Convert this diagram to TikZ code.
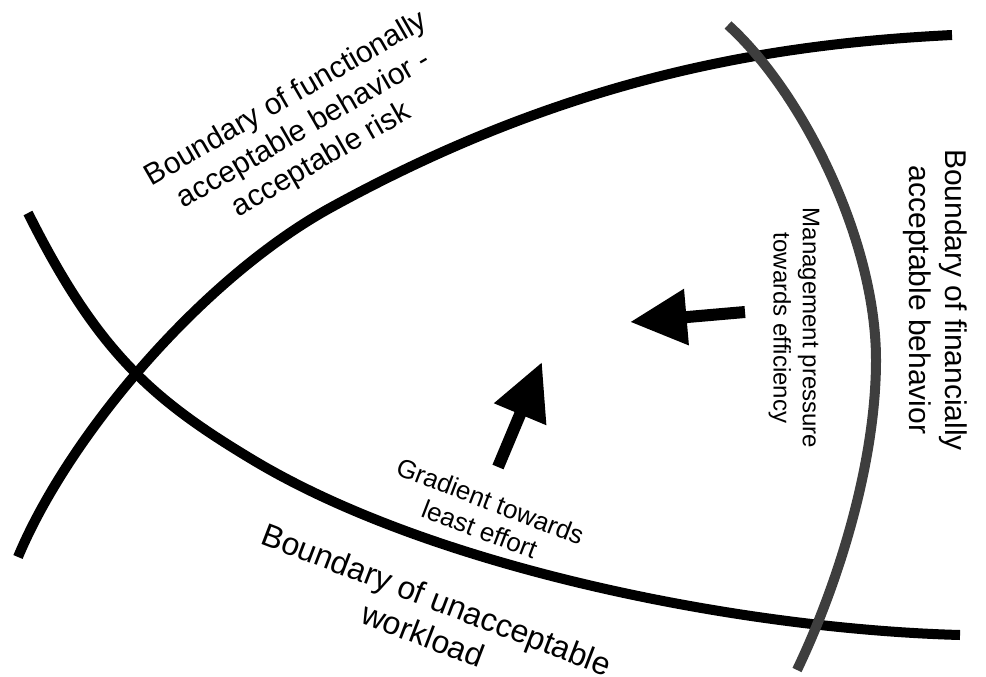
\documentclass[tikz,border=0pt]{standalone}
\usepackage{fontspec}
\setmainfont{Liberation Sans}
\usetikzlibrary{arrows.meta,positioning}
\definecolor{corpreto}{RGB}{0,0,0}
\definecolor{corcinzaescuro}{RGB}{62,62,62}

\begin{document}
\begin{tikzpicture}[
  x=0.03cm, y=-0.03cm,
  fronteira/.style={line width=0.3cm, line cap=butt},
  rotulo/.style={align=center, inner sep=0pt, text=corpreto},
  seta/.style={line width=0.36cm, draw=corpreto,
               -{Triangle[length=1.7cm,width=1.6cm]}}
]
  \useasboundingbox (0,0) rectangle (986,677);

  % limites
  \draw[fronteira, draw=corpreto] (18,557) .. controls (68,437) and (200,280) .. (330,208)
    .. controls (570,76) and (772,44) .. (952,35);
  \draw[fronteira, draw=corpreto] (28,213) .. controls (98,353) and (153,400) .. (253,460)
    .. controls (433,568) and (740,629) .. (960,635);
  \draw[fronteira, draw=corcinzaescuro] (728,25) .. controls (802,92) and (876,240) .. (876,360)
    .. controls (876,460) and (840,580) .. (797,670);

  % rotulos
  \node[rotulo, rotate=30, font=\fontsize{25.6}{30}\selectfont]
    (funcional) at (304,130) {Boundary of functionally\\acceptable behavior -\\acceptable risk};
  \node[rotulo, rotate=-90, font=\fontsize{25.6}{30.7}\selectfont]
    (financeiro) at (935,300) {Boundary of financially\\acceptable behavior};
  \node[rotulo, rotate=-90, font=\fontsize{20.5}{24.8}\selectfont]
    (gestao) at (794,328) {Management pressure\\towards efficiency};
  \node[rotulo, rotate=-21, font=\fontsize{22.2}{25.6}\selectfont]
    (gradiente) at (485,515) {Gradient towards\\least effort};
  \node[rotulo, rotate=-21, font=\fontsize{27.3}{32.4}\selectfont]
    (carga) at (430,617) {Boundary of unacceptable\\workload};

  % setas
  \coordinate (pressaoini) at (745,312);
  \coordinate (pressaofim) at (630,322);
  \coordinate (esforcoini) at (498,467);
  \coordinate (esforcofim) at (542,362);
  \draw[seta] (pressaoini) -- (pressaofim);
  \draw[seta] (esforcoini) -- (esforcofim);
\end{tikzpicture}
\end{document}
